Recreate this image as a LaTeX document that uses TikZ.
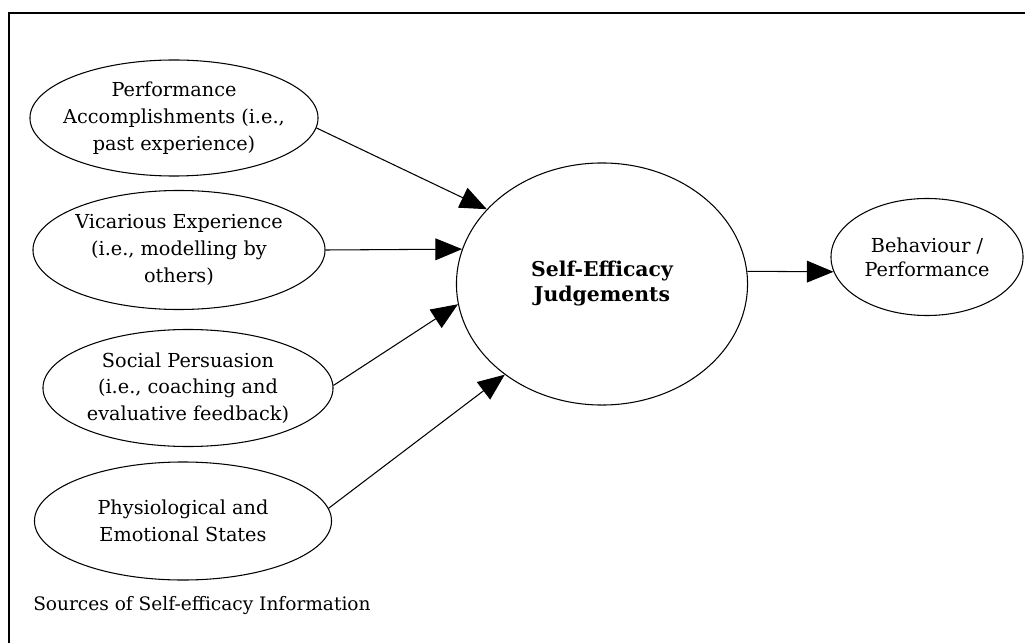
\documentclass[tikz,border=0pt]{standalone}
\usepackage{fontspec}
\setmainfont{DejaVu Serif}
\usepackage{tikz}
\usetikzlibrary{shapes.geometric,arrows.meta,positioning}

\tikzset{
    src/.style={draw, ellipse, line width=0.75pt, inner sep=0pt},
    txt/.style={align=center, inner sep=0pt, font=\fontsize{13.7}{19}\selectfont},
    arr/.style={line width=0.75pt, -{Triangle[length=19pt,width=15.5pt]}}
}

\begin{document}
\begin{tikzpicture}[x=0.025cm, y=-0.025cm]
            \useasboundingbox (0,0) rectangle (1025,643);
            % Frame
            \draw[line width=1.6pt] (9,643) |- (1025,13);

            % Sources
            \node[src, minimum width=7.2cm, minimum height=2.9cm] (perf) at (174,118) {};
            \node[txt] (perftxt) at (perf) {Performance\\Accomplishments (i.e.,\\past experience)};
            \node[src, minimum width=7.3cm, minimum height=2.975cm] (vic) at (179,250) {};
            \node[txt] (victxt) at (vic) {Vicarious Experience\\(i.e., modelling by\\others)};
            \node[src, minimum width=7.25cm, minimum height=2.925cm] (soc) at (188,388) {};
            \node[txt] (soctxt) at (soc) {Social Persuasion\\(i.e., coaching and\\evaluative feedback)};
            \node[src, minimum width=7.425cm, minimum height=2.95cm] (phys) at (183,521) {};
            \node[txt] (phystxt) at (phys) {Physiological and\\Emotional States};
            \node[txt, anchor=west, font=\fontsize{13.2}{19}\selectfont] (caption) at (33,606) {Sources of Self-efficacy Information};

            % Judgements and outcome
            \node[src, minimum width=7.275cm, minimum height=6.05cm] (big) at (602,284) {};
            \node[txt, font=\fontsize{14.5}{17.8}\selectfont\bfseries] (bigtxt) at (big) {Self-Efficacy\\Judgements};
            \node[src, minimum width=4.8cm, minimum height=2.925cm] (beh) at (927,257) {};
            \node[txt, font=\fontsize{13.7}{17}\selectfont] (behtxt) at (beh) {Behaviour /\\Performance};

            % Arrows
            \foreach \s/\a/\b in {perf/-4/147, vic/0/166, soc/1/188, phys/5/223} {
                \draw[arr] (\s.\a) -- (big.\b);
            }
            \draw[arr] (big.5) -- (beh.189);
        \end{tikzpicture}
\end{document}
